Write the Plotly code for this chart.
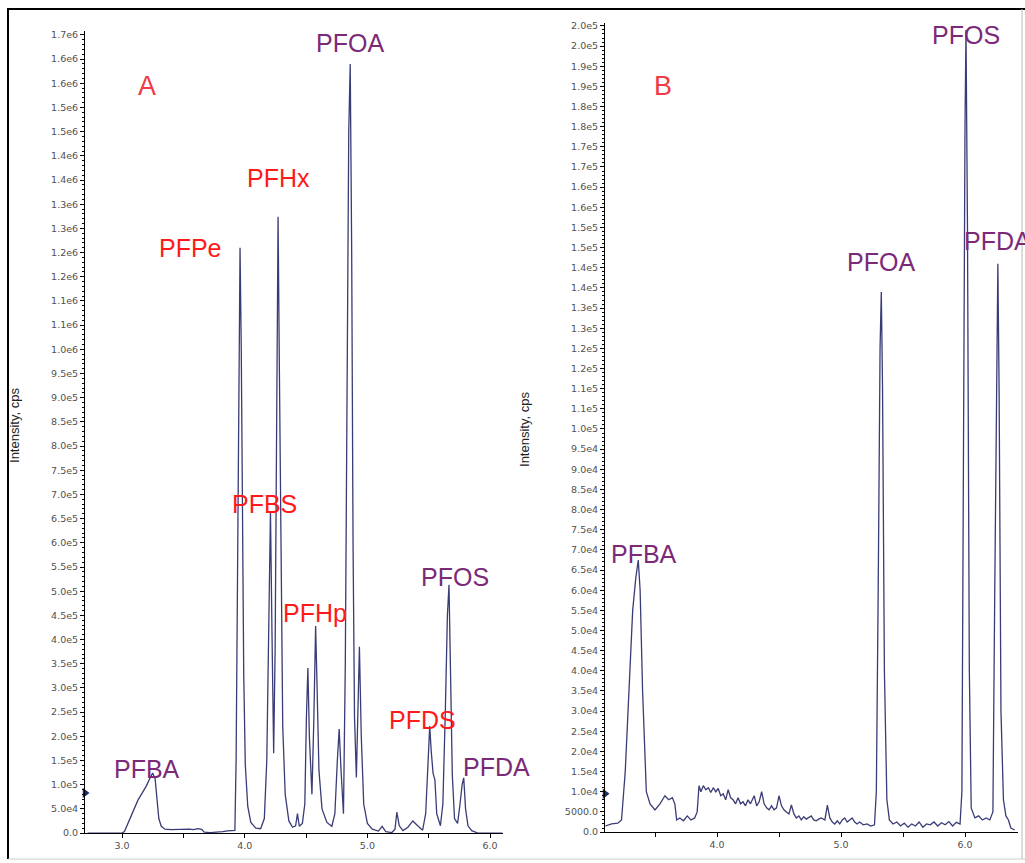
import plotly.graph_objects as go

# ---------------- data: panel A (time, min ; intensity, cps) ----------------
time_a = [2.72, 3.00, 3.02, 3.05, 3.09, 3.13, 3.17, 3.20, 3.23, 3.25, 3.27, 3.285, 3.30, 3.32, 3.35,
          3.40, 3.45, 3.50, 3.55, 3.58, 3.62, 3.65, 3.67, 3.72, 3.78, 3.82, 3.86, 3.90, 3.92, 3.93,
          3.94, 3.95, 3.962, 3.972, 3.982, 3.992, 4.005, 4.025, 4.05, 4.09, 4.13, 4.16, 4.18, 4.195,
          4.21, 4.222, 4.236, 4.248, 4.26, 4.272, 4.283, 4.295, 4.31, 4.33, 4.36, 4.39, 4.415, 4.43,
          4.445, 4.47, 4.49, 4.503, 4.515, 4.527, 4.548, 4.563, 4.578, 4.59, 4.605, 4.63, 4.67, 4.71,
          4.735, 4.755, 4.77, 4.785, 4.805, 4.82, 4.835, 4.848, 4.86, 4.872, 4.883, 4.895, 4.91, 4.923,
          4.935, 4.95, 4.97, 5.00, 5.04, 5.09, 5.12, 5.15, 5.20, 5.225, 5.24, 5.26, 5.29, 5.33, 5.37,
          5.41, 5.45, 5.475, 5.495, 5.508, 5.52, 5.535, 5.55, 5.565, 5.595, 5.615, 5.635, 5.652, 5.665,
          5.678, 5.692, 5.71, 5.735, 5.755, 5.772, 5.785, 5.80, 5.82, 5.85, 5.90, 6.10]
intensity_a = [0, 0, 3000, 20000, 45000, 68000, 85000, 98000, 115000, 124000, 112000, 70000, 30000, 14000, 8000,
               7000, 7500, 6500, 8000, 7000, 9000, 7500, 2000, 1000, 1500, 3000, 4500, 5000, 5500, 150000,
               450000, 900000, 1210000, 1000000, 650000, 330000, 140000, 55000, 22000, 10000, 9000, 30000, 150000, 450000,
               666000, 420000, 165000, 380000, 850000, 1274000, 950000, 550000, 220000, 80000, 25000, 12000, 15000, 40000,
               14000, 20000, 60000, 240000, 341000, 200000, 80000, 230000, 428000, 300000, 130000, 50000, 22000, 14000,
               40000, 150000, 215000, 130000, 40000, 350000, 950000, 1450000, 1590000, 1200000, 600000, 240000, 115000, 300000,
               385000, 200000, 60000, 20000, 8000, 4000, 14000, 3000, 1000, 8000, 43000, 15000, 5000, 12000, 25000,
               15000, 6000, 40000, 170000, 221000, 170000, 124000, 110000, 40000, 15000, 60000, 250000, 450000, 513000,
               350000, 120000, 30000, 20000, 60000, 100000, 114000, 50000, 15000, 5000, 0, 0]

# ---------------- data: panel B ----------------
time_b = [3.10, 3.15, 3.20, 3.23, 3.26, 3.29, 3.32, 3.345, 3.365, 3.38, 3.40, 3.43, 3.46, 3.50, 3.54,
          3.58, 3.61, 3.64, 3.66, 3.675, 3.70, 3.73, 3.76, 3.79, 3.82, 3.84, 3.855, 3.87, 3.89, 3.91,
          3.93, 3.95, 3.97, 3.99, 4.01, 4.03, 4.05, 4.07, 4.09, 4.11, 4.13, 4.15, 4.17, 4.19, 4.21,
          4.23, 4.25, 4.27, 4.30, 4.32, 4.34, 4.36, 4.38, 4.40, 4.42, 4.44, 4.46, 4.48, 4.50, 4.52,
          4.54, 4.56, 4.58, 4.60, 4.62, 4.64, 4.66, 4.68, 4.70, 4.72, 4.74, 4.76, 4.78, 4.80, 4.82,
          4.84, 4.87, 4.89, 4.91, 4.93, 4.95, 4.97, 4.99, 5.01, 5.03, 5.05, 5.07, 5.09, 5.11, 5.13,
          5.15, 5.18, 5.21, 5.24, 5.27, 5.285, 5.30, 5.315, 5.325, 5.335, 5.35, 5.37, 5.39, 5.42, 5.45,
          5.48, 5.51, 5.54, 5.57, 5.60, 5.63, 5.66, 5.69, 5.72, 5.75, 5.78, 5.81, 5.84, 5.87, 5.90,
          5.93, 5.96, 5.975, 5.99, 6.00, 6.008, 6.02, 6.035, 6.05, 6.08, 6.11, 6.14, 6.17, 6.20, 6.225,
          6.24, 6.255, 6.265, 6.275, 6.29, 6.31, 6.33, 6.35, 6.37, 6.40]
intensity_b = [1500, 2000, 2200, 3000, 15000, 35000, 55000, 63000, 67500, 60000, 35000, 10000, 7000, 5500, 7000,
               9000, 8000, 8500, 7000, 3000, 3500, 2800, 4000, 3000, 3500, 5000, 11500, 10000, 11500, 10500,
               11000, 9800, 11000, 10000, 10800, 9000, 9500, 8000, 10500, 8500, 8000, 7000, 8500, 7000, 7500,
               6500, 8000, 7000, 9000, 6500, 7500, 10000, 7000, 6000, 5500, 6500, 5500, 6000, 9000, 6500,
               5500, 5000, 4500, 6700, 4500, 3500, 4000, 3000, 3800, 3200, 3500, 4000, 3000, 2800, 3200,
               3500, 3000, 6700, 3500, 2500, 2000, 2800, 2000, 3000, 3500, 2500, 3000, 3500, 2500, 2000,
               2500, 1800, 2000, 1500, 1800, 10000, 60000, 120000, 134000, 110000, 40000, 8000, 3000, 2000, 2500,
               1500, 2200, 1200, 2000, 1500, 2500, 1200, 2000, 1800, 2500, 1500, 2300, 1800, 2600, 1500,
               2400, 2000, 10000, 120000, 175000, 199000, 150000, 40000, 6000, 3500, 4000, 3000, 3500, 3000, 5000,
               60000, 120000, 141000, 110000, 30000, 8000, 4000, 3000, 1000, 500]

# axis tick values / labels
x_ticks_a = [3.0, 3.5, 4.0, 4.5, 5.0, 5.5, 6.0]
x_ticks_b = [3.5, 4.0, 4.5, 5.0, 5.5, 6.0]
x_labels_a = ["3.0", "", "4.0", "", "5.0", "", "6.0"]
x_labels_b = ["", "4.0", "", "5.0", "", "6.0"]
y_ticks_a = [i * 50000 for i in range(34)]
y_labels_a = ["0.0", "5.0e4", "1.0e5", "1.5e5", "2.0e5", "2.5e5", "3.0e5", "3.5e5", "4.0e5", "4.5e5",
              "5.0e5", "5.5e5", "6.0e5", "6.5e5", "7.0e5", "7.5e5", "8.0e5", "8.5e5", "9.0e5", "9.5e5",
              "1.0e6", "1.1e6", "1.1e6", "1.2e6", "1.2e6", "1.3e6", "1.3e6", "1.4e6", "1.4e6", "1.5e6",
              "1.5e6", "1.6e6", "1.6e6", "1.7e6"]
y_ticks_b = [i * 5000 for i in range(41)]
y_labels_b = ["0.0", "5000.0", "1.0e4", "1.5e4", "2.0e4", "2.5e4", "3.0e4", "3.5e4", "4.0e4", "4.5e4",
              "5.0e4", "5.5e4", "6.0e4", "6.5e4", "7.0e4", "7.5e4", "8.0e4", "8.5e4", "9.0e4", "9.5e4",
              "1.0e5", "1.1e5", "1.1e5", "1.2e5", "1.2e5", "1.3e5", "1.3e5", "1.4e5", "1.4e5", "1.5e5",
              "1.5e5", "1.6e5", "1.6e5", "1.7e5", "1.7e5", "1.8e5", "1.8e5", "1.9e5", "1.9e5", "2.0e5",
              "2.0e5"]

# threshold markers on the y axes
threshold_a = 83000
threshold_b = 9500

# peak labels
labels_a = ["PFOA", "PFHx", "PFPe", "PFBS", "PFHp", "PFOS", "PFDS", "PFDA", "PFBA"]
labels_a_red = [False, True, True, True, True, False, True, False, False]
labels_b = ["PFOS", "PFOA", "PFDA", "PFBA"]

W, H = 1025, 863


def px(x):
    return x / W


def py(y):
    # vertical pixel position (from top) -> paper fraction, with a small calibration
    yf = (y - 2.075) / 0.99059
    return 1 - yf / H


LINE = "#3a3c76"
RED = "#ff1a1a"
PURPLE = "#7b2a78"
TICKFONT = dict(family="DejaVu Sans", size=9.5, color="#505050")

fig = go.Figure()
fig.add_trace(go.Scatter(x=time_a, y=intensity_a, mode="lines", line=dict(color=LINE, width=1.3),
                         xaxis="x", yaxis="y", showlegend=False, hoverinfo="skip"))
fig.add_trace(go.Scatter(x=time_b, y=intensity_b, mode="lines", line=dict(color=LINE, width=1.3),
                         xaxis="x2", yaxis="y2", showlegend=False, hoverinfo="skip"))

xr_a = [3.0 - 37 / 122.7, 3.0 + (503 - 122) / 122.7]
yr_a = [0, 1.65e6 + 4 * 2068]
xr_b = [4.0 - 112 / 124.0, 4.0 + (1018 - 717) / 124.0]
yr_b = [0, 2.0e5 + 3 * 248]

fig.add_trace(go.Scatter(x=[xr_a[0]], y=[threshold_a], mode="markers", cliponaxis=False,
                         marker=dict(symbol="triangle-right", size=9, color="#1c2a6e"),
                         xaxis="x", yaxis="y", showlegend=False, hoverinfo="skip"))
fig.add_trace(go.Scatter(x=[xr_b[0]], y=[threshold_b], mode="markers", cliponaxis=False,
                         marker=dict(symbol="triangle-right", size=9, color="#1c2a6e"),
                         xaxis="x2", yaxis="y2", showlegend=False, hoverinfo="skip"))

axis_common = dict(showgrid=False, zeroline=False, showline=True, linecolor="black", linewidth=1,
                   ticks="outside", ticklen=4, tickcolor="black", tickfont=TICKFONT)

fig.update_layout(
    width=W, height=H, autosize=False,
    margin=dict(l=0, r=0, t=0, b=0),
    paper_bgcolor="white", plot_bgcolor="white",
    xaxis=dict(domain=[px(85), px(503)], range=xr_a, anchor="y", tickvals=x_ticks_a, ticktext=x_labels_a,
               **axis_common),
    yaxis=dict(domain=[py(832), py(30)], range=yr_a, anchor="x", tickvals=y_ticks_a, ticktext=y_labels_a,
               minor=dict(dtick=10000, ticklen=2, ticks="outside", tickcolor="black"),
               **axis_common),
    xaxis2=dict(domain=[px(605), px(1018)], range=xr_b, anchor="y2", tickvals=x_ticks_b, ticktext=x_labels_b,
                **axis_common),
    yaxis2=dict(domain=[py(831), py(22)], range=yr_b, anchor="x2", tickvals=y_ticks_b, ticktext=y_labels_b,
                minor=dict(dtick=1000, ticklen=2, ticks="outside", tickcolor="black"),
                **axis_common),
)

ann_font = "Liberation Sans"
pos_a = [(350, 42), (278, 177), (190, 247), (264, 503), (315, 612), (455, 576), (422, 719), (496, 766), (147, 768)]
for name, red, (x0, y0) in zip(labels_a, labels_a_red, pos_a):
    fig.add_annotation(x=px(x0), y=py(y0), xref="paper", yref="paper", text=name, showarrow=False,
                       xanchor="center", yanchor="middle",
                       font=dict(family=ann_font, size=25, color=RED if red else PURPLE))
pos_b = [(966, 34), (881, 261), (997, 240), (644, 553)]
for name, (x0, y0) in zip(labels_b, pos_b):
    fig.add_annotation(x=px(x0), y=py(y0), xref="paper", yref="paper", text=name, showarrow=False,
                       xanchor="center", yanchor="middle",
                       font=dict(family=ann_font, size=25, color=PURPLE))

for letter, (x0, y0) in zip(["A", "B"], [(147, 85), (663, 85)]):
    fig.add_annotation(x=px(x0), y=py(y0), xref="paper", yref="paper", text=letter, showarrow=False,
                       xanchor="center", yanchor="middle",
                       font=dict(family=ann_font, size=27, color="#ee3b45"))

for x0, y0 in [(15, 425), (525, 429)]:
    fig.add_annotation(x=px(x0), y=py(y0), xref="paper", yref="paper", text="Intensity, cps",
                       showarrow=False, textangle=-90, xanchor="center", yanchor="middle",
                       font=dict(family="Liberation Sans Narrow, Liberation Sans", size=13, color="#222222"))

# frame
fig.add_shape(type="line", xref="paper", yref="paper", x0=px(7), x1=1, y0=py(8), y1=py(8),
              line=dict(color="black", width=2))
fig.add_shape(type="line", xref="paper", yref="paper", x0=px(8), x1=px(8), y0=py(8), y1=py(858),
              line=dict(color="black", width=2))
fig.add_shape(type="line", xref="paper", yref="paper", x0=px(8), x1=1, y0=py(858), y1=py(858),
              line=dict(color="#cccccc", width=1))
fig.add_shape(type="line", xref="paper", yref="paper", x0=px(1022), x1=px(1022), y0=py(8), y1=py(858),
              line=dict(color="#bbbbbb", width=1))

post = ("document.documentElement.style.margin='0';"
        "document.documentElement.style.overflow='hidden';"
        "document.body.style.margin='0';document.body.style.padding='0';"
        "document.body.style.overflow='hidden';"
        "var gd=document.getElementById('{plot_id}');"
        "gd.style.position='absolute';gd.style.left='0px';gd.style.top='0px';")

fig.write_html("out.html", config={"displayModeBar": False}, post_script=post)
